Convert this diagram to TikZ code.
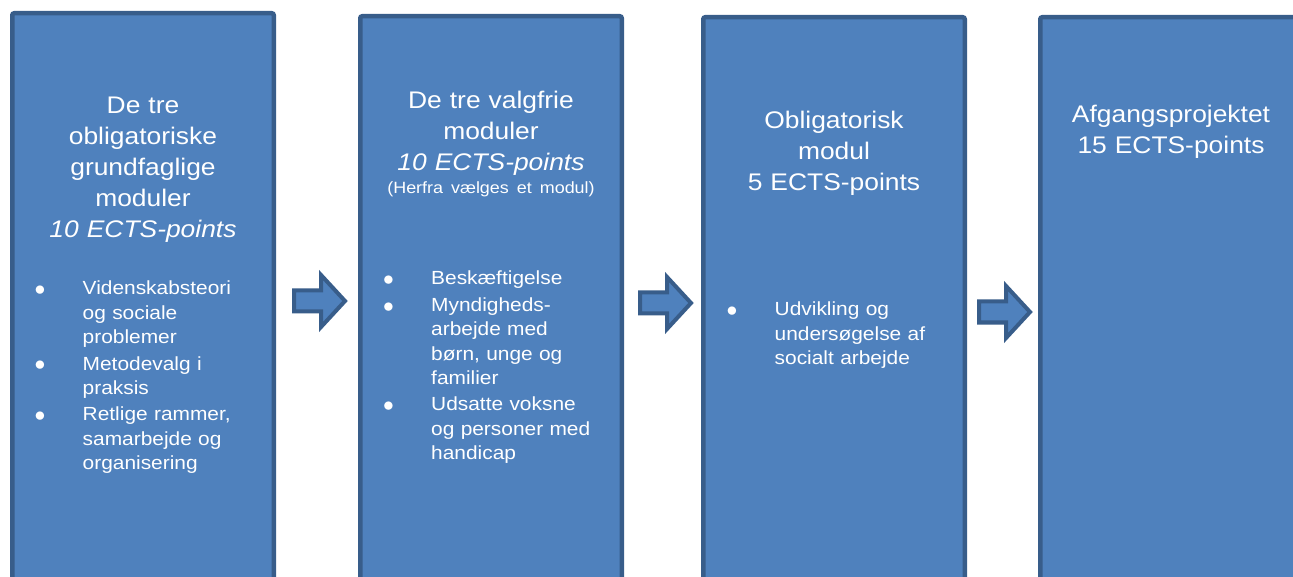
\documentclass[tikz,border=0pt]{standalone}
\usepackage{fontspec}
\setmainfont{Liberation Sans}[FakeStretch=1.1]
\usetikzlibrary{positioning}

\definecolor{boksblaa}{HTML}{4F81BD}
\definecolor{kantblaa}{HTML}{385D8A}

\tikzset{
  boks/.style={draw=kantblaa, fill=boksblaa, line width=4.5pt, rounded corners=2pt,
    minimum width=261.5pt, minimum height=700pt, anchor=north west, inner sep=0pt},
  hoved/.style={text=white, anchor=north, text width=255pt, align=center, inner sep=0pt,
    font=\fontsize{24}{31}\selectfont},
  liste/.style={text=white, anchor=north west, text width=235pt, inner sep=0pt,
    font=\fontsize{19}{24.4}\selectfont},
  pil/.style={draw=kantblaa, fill=boksblaa, line width=4pt}
}

\newcommand{\prik}{\rlap{\hspace{-1.5pt}\raisebox{-0.9pt}{\scalebox{1.25}{$\bullet$}}}}
\newenvironment{punkter}{\begin{list}{\prik\hfill}{%
  \setlength{\leftmargin}{46.5pt}\setlength{\labelwidth}{46.5pt}%
  \setlength{\labelsep}{0pt}\setlength{\itemsep}{2pt}\setlength{\topsep}{0pt}%
  \setlength{\partopsep}{0pt}\setlength{\parsep}{0pt}\raggedright}}{\end{list}}

\begin{document}
\begin{tikzpicture}[x=1pt,y=-1pt]
\useasboundingbox (0,0) rectangle (1293,577);
\fill[white] (0,0) rectangle (1293,577);

% the four boxes
\node[boks] (b1) at (10,11) {};
\node[boks] (b2) at (358,14) {};
\node[boks] (b3) at (701,15) {};
\node[boks] (b4) at (1038,15) {};

% block arrows between the boxes
\foreach \x/\y in {320/301, 666/303, 1005/312}
  \draw[pil] (\x-26,\y-10.5) -- (\x+1,\y-10.5) -- (\x+1,\y-26) -- (\x+25,\y)
    -- (\x+1,\y+26) -- (\x+1,\y+10.5) -- (\x-26,\y+10.5) -- cycle;

% headings
\node[hoved] (h1) at (143,96.5) {De tre\\ obligatoriske\\ grundfaglige\\ moduler\\ \textit{10 ECTS-points}};
\node[hoved] (h2) at (491,91) {De tre valgfrie\\ moduler\\ \textit{10 ECTS-points}\\[-8pt]
  {\fontsize{16.3}{20}\selectfont (Herfra vælges et modul)}};
\node[hoved] (h3) at (834,111) {Obligatorisk\\ modul\\ 5 ECTS-points};
\node[hoved] (h4) at (1171,104.5) {Afgangsprojektet\\ 15 ECTS-points};

% lists
\node[liste] (l1) at (36,270.3) {\begin{punkter}
  \item Videnskabsteori\\ og sociale\\ problemer
  \item Metodevalg i\\ praksis
  \item Retlige rammer,\\ samarbejde og\\ organisering
\end{punkter}};
\node[liste] (l2) at (384.5,260.3) {\begin{punkter}
  \item Beskæftigelse
  \item Myndigheds-\\ arbejde med\\ børn, unge og\\ familier
  \item Udsatte voksne\\ og personer med\\ handicap
\end{punkter}};
\node[liste] (l3) at (728,291.3) {\begin{punkter}
  \item Udvikling og\\ undersøgelse af\\ socialt arbejde
\end{punkter}};

\end{tikzpicture}
\end{document}
